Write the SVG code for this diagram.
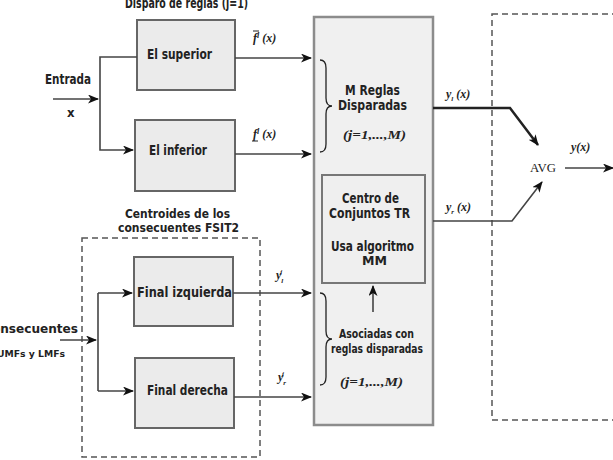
<svg xmlns="http://www.w3.org/2000/svg" width="613" height="460" viewBox="0 0 613 460">
<style>
  .t { font-family: "Liberation Sans Narrow", "DejaVu Sans Condensed", "Liberation Sans", sans-serif; font-weight: bold; font-size: 13px; fill: #222; }
  .c { text-anchor: middle; }
  .m { font-family: "Liberation Serif", "DejaVu Serif", serif; font-style: italic; font-weight: bold; font-size: 12px; fill: #222; }
  .box { fill: #ebebeb; stroke: #666; stroke-width: 2; }
  .big { fill: #f0f0f0; stroke: #8c8c8c; stroke-width: 2.5; }
  .dash { fill: none; stroke: #555; stroke-width: 1.5; stroke-dasharray: 6 4; }
  .ln { fill: none; stroke: #444; stroke-width: 1.6; }
  .thick { fill: none; stroke: #222; stroke-width: 2.5; }
</style>
<defs>
  <marker id="ah" markerWidth="11" markerHeight="9" refX="10" refY="4.5" orient="auto" markerUnits="userSpaceOnUse">
    <path d="M0,0 L11,4.5 L0,9 L3,4.5 z" fill="#111"/>
  </marker>
</defs>
<rect width="613" height="460" fill="#fff"/>

<text class="t" x="125" y="8" style="font-size:14px" textLength="123" lengthAdjust="spacingAndGlyphs">Disparo de reglas (j=1)</text>

<g id="dashed-left"><rect class="dash" x="82" y="238" width="178" height="219"/></g>
<g id="dashed-right"><rect class="dash" x="492" y="14" width="140" height="406"/></g>

<g id="entrada">
  <text class="t" x="45" y="84" style="font-size:14px" textLength="46" lengthAdjust="spacingAndGlyphs">Entrada</text>
  <text class="t" x="67" y="117">x</text>
</g>
<g id="consecuentes">
  <text class="t" x="-17" y="333" textLength="95" lengthAdjust="spacingAndGlyphs">Consecuentes</text>
  <text class="t" x="-3" y="357" style="font-size:9px" textLength="68" lengthAdjust="spacingAndGlyphs">UMFs y LMFs</text>
</g>
<g id="titulo-centroides">
  <text class="t" x="125" y="218" style="font-size:13px" textLength="105" lengthAdjust="spacingAndGlyphs">Centroides de los</text>
  <text class="t" x="118" y="232" style="font-size:13px" textLength="121" lengthAdjust="spacingAndGlyphs">consecuentes FSIT2</text>
</g>

<g id="superior"><rect class="box" x="137" y="20" width="98" height="70"/><text class="t" x="147" y="59" style="font-size:14px" textLength="65" lengthAdjust="spacingAndGlyphs">El superior</text></g>
<g id="inferior"><rect class="box" x="135" y="120" width="100" height="71"/><text class="t" x="149" y="155" style="font-size:14px" textLength="58" lengthAdjust="spacingAndGlyphs">El inferior</text></g>
<g id="izquierda"><rect class="box" x="134" y="257" width="99" height="69"/><text class="t" x="137" y="297" style="font-size:14px" textLength="95" lengthAdjust="spacingAndGlyphs">Final izquierda</text></g>
<g id="derecha"><rect class="box" x="135" y="358" width="99" height="70"/><text class="t" x="147" y="395" style="font-size:14px" textLength="81" lengthAdjust="spacingAndGlyphs">Final derecha</text></g>

<g id="reglas">
  <rect class="big" x="314" y="17" width="119" height="408"/>
  <path d="M320,60 Q326,60 326,68 L326,98 Q326,106 332,106 Q326,106 326,114 L326,144 Q326,152 320,152" fill="none" stroke="#222" stroke-width="1.3"/>
  <text class="t" x="345" y="95" style="font-size:14px" textLength="55" lengthAdjust="spacingAndGlyphs">M Reglas</text>
  <text class="t" x="338" y="110" style="font-size:14px" textLength="69" lengthAdjust="spacingAndGlyphs">Disparadas</text>
  <text class="m" x="343" y="139" textLength="63" lengthAdjust="spacingAndGlyphs">(j=1,...,M)</text>
  <path d="M320,293 Q326,293 326,301 L326,331 Q326,339 332,339 Q326,339 326,347 L326,377 Q326,385 320,385" fill="none" stroke="#222" stroke-width="1.3"/>
  <text class="t" x="339" y="338" textLength="75" lengthAdjust="spacingAndGlyphs">Asociadas con</text>
  <text class="t" x="331" y="353" textLength="92" lengthAdjust="spacingAndGlyphs">reglas disparadas</text>
  <text class="m" x="340" y="386" textLength="63" lengthAdjust="spacingAndGlyphs">(j=1,...,M)</text>
</g>
<g id="centro">
  <rect x="322" y="175" width="103" height="108" fill="#efefef" stroke="#777" stroke-width="2"/>
  <text class="t" x="342" y="203" style="font-size:14px" textLength="57" lengthAdjust="spacingAndGlyphs">Centro de</text>
  <text class="t" x="329" y="218" style="font-size:14px" textLength="81" lengthAdjust="spacingAndGlyphs">Conjuntos TR</text>
  <text class="t" x="331" y="251" style="font-size:14px" textLength="83" lengthAdjust="spacingAndGlyphs">Usa algoritmo</text>
  <text class="t" x="362" y="265" style="font-size:13px" textLength="25" lengthAdjust="spacingAndGlyphs">MM</text>
</g>
<g id="avg">
  <text x="530" y="172" font-family="Liberation Serif, serif" font-size="13" fill="#222" textLength="26" lengthAdjust="spacingAndGlyphs">AVG</text>
</g>

<g id="connectors">
  <line class="ln" x1="53" y1="99" x2="98" y2="99" marker-end="url(#ah)"/>
  <polyline class="ln" points="137,57 100,57 100,150 133,150" marker-end="url(#ah)"/>
  <line class="ln" x1="235" y1="58" x2="311" y2="58" marker-end="url(#ah)"/>
  <line class="ln" x1="235" y1="154" x2="311" y2="154" marker-end="url(#ah)"/>
  <line class="ln" x1="60" y1="340" x2="96" y2="340" marker-end="url(#ah)"/>
  <line class="ln" x1="98" y1="293" x2="98" y2="391"/>
  <line class="ln" x1="98" y1="293" x2="132" y2="293" marker-end="url(#ah)"/>
  <line class="ln" x1="98" y1="391" x2="133" y2="391" marker-end="url(#ah)"/>
  <line class="ln" x1="233" y1="293" x2="311" y2="293" marker-end="url(#ah)"/>
  <line class="ln" x1="234" y1="397" x2="311" y2="397" marker-end="url(#ah)"/>
  <line class="ln" x1="373" y1="312" x2="373" y2="286" marker-end="url(#ah)"/>
  <polyline class="thick" points="433,108 510,108 538,145" marker-end="url(#ah)"/>
  <polyline class="ln" points="433,221 512,221 542,182" stroke="#222" stroke-width="2" marker-end="url(#ah)"/>
  <line class="ln" x1="565" y1="168" x2="613" y2="168" marker-end="url(#ah)"/>
</g>

<g id="labels">
  <text class="m" x="253" y="42">f<tspan style="font-size:8px" dy="-4">l</tspan><tspan dy="4"> (x)</tspan></text>
  <line x1="253" y1="31" x2="259" y2="31" stroke="#222" stroke-width="1"/>
  <text class="m" x="253" y="138">f<tspan style="font-size:8px" dy="-4">l</tspan><tspan dy="4"> (x)</tspan></text>
  <line x1="252" y1="141" x2="258" y2="141" stroke="#222" stroke-width="1"/>
  <text class="m" x="276" y="279">y<tspan style="font-size:7px" dy="4">l</tspan><tspan style="font-size:7px" dx="-3" dy="-9">j</tspan></text>
  <text class="m" x="278" y="381">y<tspan style="font-size:7px" dy="4">r</tspan><tspan style="font-size:7px" dx="-4" dy="-9">j</tspan></text>
  <text class="m" x="446" y="98">y<tspan style="font-size:7px" dy="3">l</tspan><tspan dy="-3"> (x)</tspan></text>
  <text class="m" x="446" y="211">y<tspan style="font-size:7px" dy="3">r</tspan><tspan dy="-3"> (x)</tspan></text>
  <text class="m" x="571" y="151">y(x)</text>
</g>
</svg>
